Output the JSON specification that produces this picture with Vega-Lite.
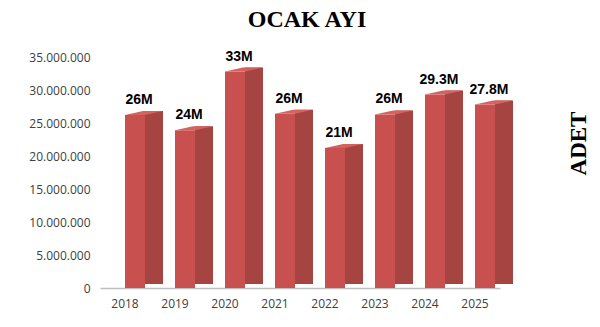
{
  "$schema": "https://vega.github.io/schema/vega-lite/v6.json",
  "width": 400,
  "height": 231,
  "autosize": {"type": "none"},
  "padding": {"left": 100, "top": 57, "right": 100, "bottom": 39},
  "background": "white",
  "title": {"text": "OCAK AYI", "font": "Liberation Serif", "fontSize": 24, "fontWeight": "bold", "color": "black", "anchor": "middle", "frame": "group", "offset": 27, "baseline": "alphabetic", "dx": 7, "dy": 28},
  "config": {
    "view": {"stroke": null},
    "locale": {"number": {"decimal": ",", "thousands": ".", "grouping": [3], "currency": ["", " TL"]}}
  },
  "data": {"values": [
    {"year": "2018", "value": 26200000, "label": "26M"},
    {"year": "2019", "value": 23900000, "label": "24M"},
    {"year": "2020", "value": 32800000, "label": "33M"},
    {"year": "2021", "value": 26400000, "label": "26M"},
    {"year": "2022", "value": 21200000, "label": "21M"},
    {"year": "2023", "value": 26300000, "label": "26M"},
    {"year": "2024", "value": 29300000, "label": "29.3M"},
    {"year": "2025", "value": 27800000, "label": "27.8M"}
  ]},
  "encoding": {
    "x": {"field": "year", "type": "ordinal", "scale": {"paddingInner": 0, "paddingOuter": 0},
      "axis": {"title": null, "labelAngle": 0, "labelFont": "Open Sans", "labelFontSize": 12, "labelColor": "#404040", "ticks": false, "domainColor": "#bfbfbf", "domainWidth": 1.5, "labelPadding": 10}}
  },
  "layer": [
    {
      "mark": {"type": "bar", "width": 18, "xOffset": 29, "yOffset": -4, "y2Offset": -4, "color": "#A64442"},
      "encoding": {
        "y": {"field": "value", "type": "quantitative", "scale": {"domain": [0, 35000000]},
          "axis": {"orient": "right", "labels": false, "ticks": false, "domain": false, "grid": false, "title": "ADET", "titleFont": "Liberation Serif", "titleFontSize": 23, "titleFontWeight": "bold", "titleColor": "black", "titleAngle": 270, "titleX": 78, "titleY": 86, "titleAlign": "center", "titleBaseline": "middle"}}
      }
    },
    {
      "mark": {"type": "bar", "width": 20, "xOffset": 10, "color": "#C8504E"},
      "encoding": {
        "y": {"field": "value", "type": "quantitative",
          "axis": {"orient": "left", "title": null, "format": ",.0f", "values": [0, 5000000, 10000000, 15000000, 20000000, 25000000, 30000000, 35000000], "labelFont": "Open Sans", "labelFontSize": 12, "labelColor": "#404040", "labelPadding": 10, "ticks": false, "domain": false, "grid": false}}
      }
    },
    {
      "mark": {"type": "point", "shape": "M-0.95,0.1L0.05,0.1L0.95,-0.1L-0.05,-0.1Z", "size": 1600, "filled": true, "opacity": 1, "color": "#D4625F", "strokeWidth": 0, "xOffset": 19, "yOffset": -2},
      "encoding": {
        "y": {"field": "value", "type": "quantitative", "axis": null}
      }
    },
    {
      "mark": {"type": "text", "font": "Liberation Sans", "fontSize": 14, "fontWeight": "bold", "color": "black", "baseline": "middle", "xOffset": 14, "yOffset": -15},
      "encoding": {
        "y": {"field": "value", "type": "quantitative", "axis": null},
        "text": {"field": "label"}
      }
    }
  ],
  "resolve": {"axis": {"y": "independent"}}
}
